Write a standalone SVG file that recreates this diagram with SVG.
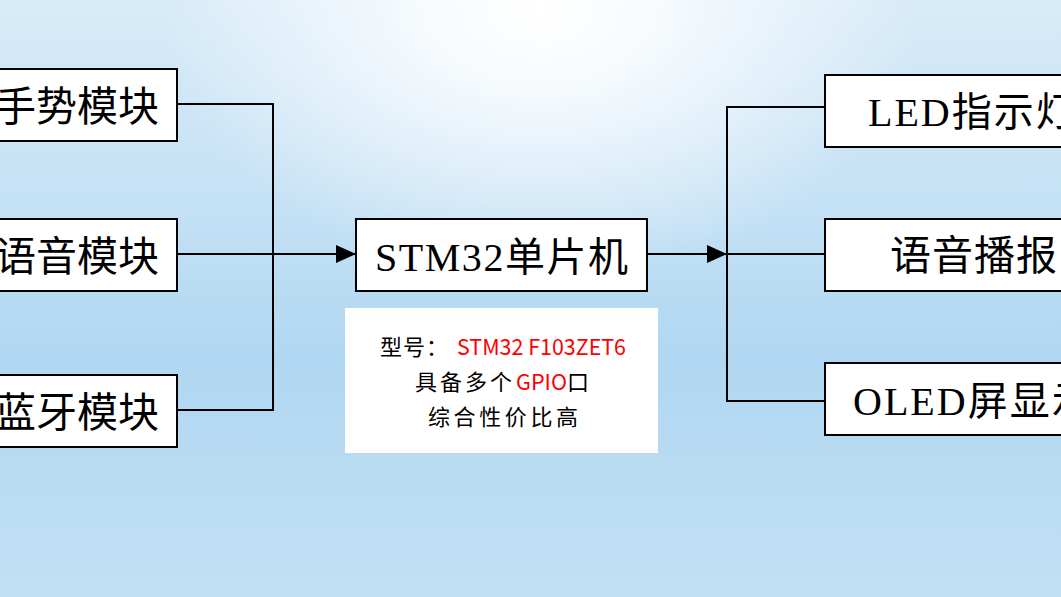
<svg xmlns="http://www.w3.org/2000/svg" width="1061" height="597" viewBox="0 0 1061 597">
<defs>
<linearGradient id="bg" x1="0" y1="0" x2="0" y2="1">
<stop offset="0" stop-color="#d8ebf8"/>
<stop offset="0.35" stop-color="#c4e1f5"/>
<stop offset="0.6" stop-color="#b0d7f1"/>
<stop offset="1" stop-color="#c3e0f4"/>
</linearGradient>
<radialGradient id="glow" gradientUnits="userSpaceOnUse" cx="540" cy="10" r="380" gradientTransform="translate(540 10) scale(1 0.7) translate(-540 -10)">
<stop offset="0" stop-color="#ffffff" stop-opacity="1"/>
<stop offset="0.3" stop-color="#ffffff" stop-opacity="0.8"/>
<stop offset="1" stop-color="#ffffff" stop-opacity="0"/>
</radialGradient>
<marker id="arr" viewBox="0 0 20 18" refX="20" refY="9" markerWidth="20" markerHeight="18" markerUnits="userSpaceOnUse" orient="auto">
<path d="M0,0 L20,9 L0,18 Z" fill="#000"/>
</marker>
</defs>
<style>
.box{fill:#fff;stroke:#000;stroke-width:2}
.lbl{font-family:"Noto Sans CJK SC",sans-serif;font-size:41px;fill:#000}
.ser{font-family:"Liberation Serif","Noto Sans CJK SC",serif;font-size:40px;fill:#000}
.info{font-family:"Noto Sans CJK SC",sans-serif;font-size:22px;fill:#000}
.red{fill:#ff0000}
.ln{fill:none;stroke:#000;stroke-width:2}
</style>
<rect x="0" y="0" width="1061" height="597" fill="url(#bg)"/>
<rect x="0" y="0" width="1061" height="597" fill="url(#glow)"/>

<g id="connectors">
<path class="ln" d="M177,104 H273 V410 H177"/>
<path class="ln" d="M177,254 H356" marker-end="url(#arr)"/>
<path class="ln" d="M647,254 H727" marker-end="url(#arr)"/>
<path class="ln" d="M825,107 H727 V401 H825"/>
<path class="ln" d="M727,254 H825"/>
</g>

<g id="node-gesture">
<rect class="box" x="-10" y="69" width="187" height="72"/>
<text class="lbl" x="159" y="121" text-anchor="end">手势模块</text>
</g>
<g id="node-voice">
<rect class="box" x="-10" y="219" width="187" height="72"/>
<text class="lbl" x="159" y="271" text-anchor="end">语音模块</text>
</g>
<g id="node-bt">
<rect class="box" x="-10" y="375" width="187" height="72"/>
<text class="lbl" x="159" y="427" text-anchor="end">蓝牙模块</text>
</g>

<g id="node-stm32">
<rect class="box" x="356" y="219" width="291" height="72"/>
<text class="ser" x="375" y="271" textLength="253" lengthAdjust="spacing">STM32单片机</text>
</g>

<g id="node-info">
<rect x="345" y="308" width="313" height="145" fill="#fff"/>
<text class="info" x="380" y="355"><tspan letter-spacing="1">型号：</tspan><tspan class="red" x="457" textLength="169" lengthAdjust="spacingAndGlyphs">STM32 F103ZET6</tspan></text>
<text class="info" x="415" y="390"><tspan letter-spacing="3">具备多个</tspan><tspan class="red" x="516" textLength="51" lengthAdjust="spacingAndGlyphs">GPIO</tspan><tspan x="567">口</tspan></text>
<text class="info" x="428" y="425" letter-spacing="3.6">综合性价比高</text>
</g>

<g id="node-led">
<rect class="box" x="825" y="75" width="250" height="72"/>
<text class="ser" x="868" y="126" letter-spacing="2">LED指示灯</text>
</g>
<g id="node-broadcast">
<rect class="box" x="825" y="219" width="250" height="72"/>
<text class="lbl" x="890" y="270" letter-spacing="1">语音播报</text>
</g>
<g id="node-oled">
<rect class="box" x="825" y="363" width="250" height="72"/>
<text class="ser" x="853" y="415" letter-spacing="2">OLED屏显示</text>
</g>
</svg>
